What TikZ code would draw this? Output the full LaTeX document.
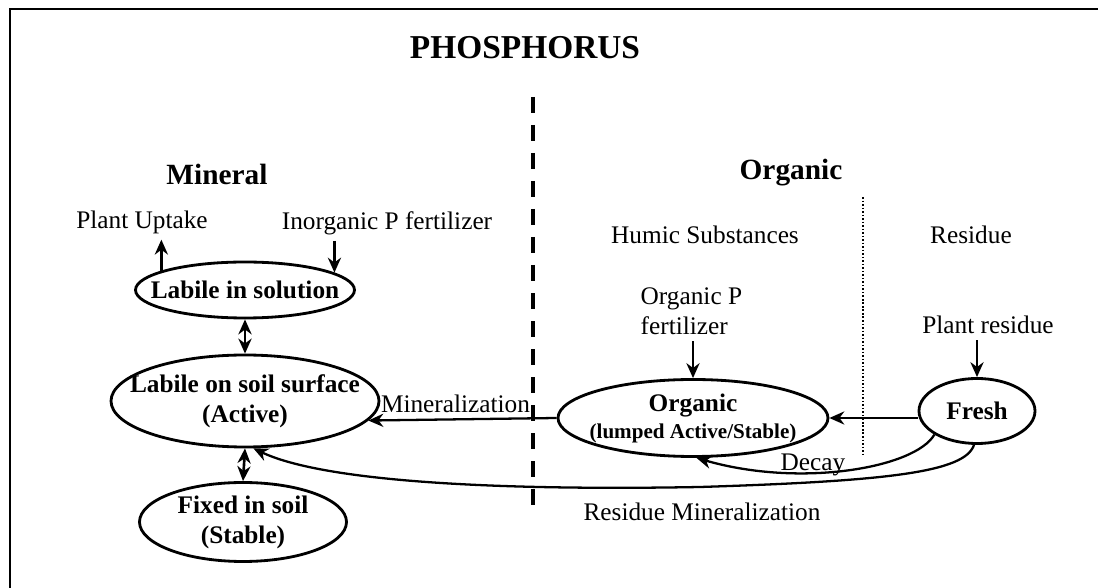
\documentclass[tikz,border=0pt]{standalone}
\usepackage{fontspec}
\setmainfont{Liberation Serif}
\usetikzlibrary{shapes.geometric,arrows.meta}

\begin{document}
\begin{tikzpicture}
		[line cap=butt,
		%Styles
		pool/.style={ellipse,draw,line width=1.6pt,inner xsep=-2cm,inner ysep=-1cm,
			align=center,font=\fontsize{14.4}{17}\selectfont\bfseries},
		note/.style={font=\fontsize{14.4}{17}\selectfont},
		heading/.style={font=\fontsize{16.7}{20}\selectfont\bfseries},
		flow/.style={->,line width=1.3pt},
		exchange/.style={<->,line width=1.5pt},
		>={Stealth[length=8.5pt,width=7.5pt]}
		]
		
		%Frame
		\useasboundingbox (0,0) rectangle (21.96,-11.76);
		\draw[line width=1.6pt] (21.96,-0.18) -- (0.20,-0.18) -- (0.20,-11.76);
		
		%Headings
		\node[font=\fontsize{19}{22}\selectfont\bfseries] (title) at (10.50,-0.96) {PHOSPHORUS};
		\node[heading] (mineral) at (4.34,-3.48) {Mineral};
		\node[heading] (organic) at (15.82,-3.46) {Organic};
		\node[note] (humic) at (14.10,-4.70) {Humic Substances};
		\node[note] (residue) at (19.42,-4.70) {Residue};
		
		%Dividers
		\draw[line width=2.6pt,dash pattern=on 0.32cm off 0.24cm] (10.66,-1.94) -- (10.66,-10.24);
		\draw[line width=0.7pt,dash pattern=on 0.9pt off 1.1pt] (17.26,-3.94) -- (17.26,-9.12);
		
		%Pools
		\node[pool,minimum width=4.38cm,minimum height=1.12cm] (sol) at (4.90,-5.80) {Labile in solution};
		\node[pool,minimum width=5.36cm,minimum height=1.84cm] (surf) at (4.90,-8.02) {Labile on soil surface\\(Active)};
		\node[pool,minimum width=4.14cm,minimum height=1.58cm] (fixed) at (4.86,-10.44) {Fixed in soil\\(Stable)};
		\node[pool,minimum width=5.40cm,minimum height=1.54cm,font=\fontsize{14.4}{15.4}\selectfont\bfseries] (org) at (13.86,-8.36)
			{Organic\\{\fontsize{12}{14}\selectfont(lumped Active/Stable)}};
		\node[pool,minimum width=2.32cm,minimum height=1.30cm] (fresh) at (19.54,-8.22) {Fresh};
		
		%Inputs and outputs
		\node[note] (uptake) at (2.84,-4.44) {Plant Uptake};
		\node[note] (inorg) at (7.74,-4.46) {Inorganic P fertilizer};
		\node[note,anchor=west,align=left] (orgfert) at (12.69,-6.23) {Organic P\\fertilizer};
		\node[note] (plantres) at (19.76,-6.50) {Plant residue};
		
		\draw[flow] (sol.167) -- (sol.167 |- uptake.south);
		\draw[flow] (inorg.south -| sol.11) -- (sol.11);
		\draw[flow] (orgfert.south -| org.north) -- (org.north);
		\draw[flow] (plantres.south -| fresh.north) -- (fresh.north);
		
		%Exchanges
		\draw[exchange] (sol.south) -- (surf.north);
		\draw[exchange] (surf.south) -- (fixed.north);
		
		%Transformations
		\draw[flow] (fresh.west |- org.east) -- (org.east);
		\draw[flow] (org.west) -- node[note,pos=0.537,above] (minlabel) {Mineralization} (surf.-9);
		\draw[flow] (fresh.209) .. controls (18.30,-9.36) and (16.00,-9.76) .. (org.-85);
		\draw[flow] (fresh.-95) .. controls (19.30,-9.44) and (17.80,-9.62) .. (14.00,-9.74)
			.. controls (9.60,-9.82) and (6.40,-9.60) .. (surf.-80);
		\node[note] (decay) at (16.26,-9.30) {Decay};
		\node[note] (resmin) at (14.04,-10.24) {Residue Mineralization};
		
	\end{tikzpicture}
\end{document}
